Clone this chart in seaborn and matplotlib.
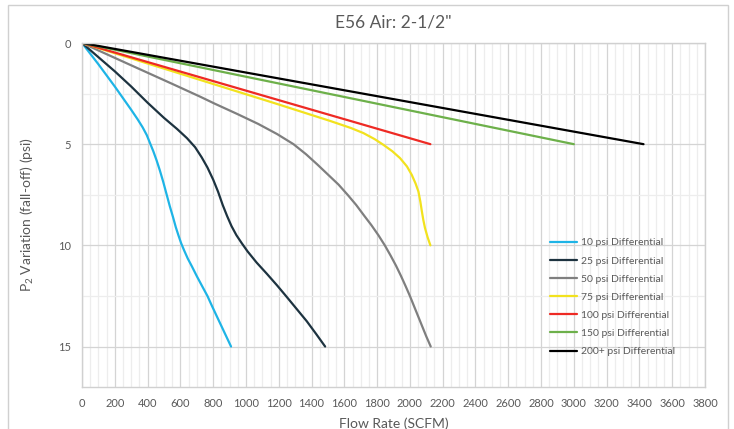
import pandas as pd
import matplotlib
matplotlib.use('Agg')
import matplotlib.pyplot as plt
from matplotlib.ticker import MultipleLocator
from matplotlib.patches import Rectangle
import seaborn as sns

# values (flow SCFM, P2 fall-off psi)
flow_10 = [0, 100, 200, 300, 340, 370, 395, 415, 435, 455, 475, 495, 515, 535, 555,
           572, 588, 605, 623, 645, 671, 702, 735, 765, 793, 822, 851, 880, 909]
drop_10 = [0, 1.05, 2.15, 3.3, 3.78, 4.17, 4.55, 4.95, 5.35, 5.8, 6.3, 6.85, 7.45, 8.05, 8.6,
           9.1, 9.5, 9.9, 10.25, 10.65, 11.05, 11.55, 12.05, 12.5, 13.0, 13.5, 14.0, 14.5, 15.0]

flow_25 = [0, 100, 200, 300, 400, 500, 580, 640, 690, 730, 765, 800, 830, 858, 885,
           912, 942, 975, 1010, 1065, 1127, 1190, 1249, 1310, 1371, 1430, 1483]
drop_25 = [0, 0.7, 1.4, 2.15, 2.95, 3.7, 4.25, 4.7, 5.15, 5.65, 6.15, 6.75, 7.35, 8.0, 8.55,
           9.05, 9.5, 9.9, 10.3, 10.85, 11.4, 11.98, 12.55, 13.15, 13.75, 14.4, 15.0]

flow_50 = [0, 272, 545, 720, 810, 945, 1075, 1190, 1290, 1367, 1435, 1500, 1565, 1620,
           1672, 1718, 1765, 1808, 1847, 1882, 1915, 1945, 1973, 2000, 2025, 2050, 2075,
           2100, 2127]
drop_50 = [0, 1.0, 2.0, 2.65, 3.0, 3.5, 4.0, 4.5, 5.0, 5.5, 6.0, 6.5, 7.0, 7.5,
           8.0, 8.5, 9.0, 9.5, 10.0, 10.5, 11.0, 11.5, 12.0, 12.5, 13.0, 13.5, 14.0,
           14.5, 15.0]

flow_75 = [0, 395, 790, 1185, 1513, 1640, 1716, 1785, 1838, 1893, 1940, 1982, 2011,
           2035, 2052, 2064, 2073, 2082, 2092, 2108, 2125]
drop_75 = [0, 1.0, 2.0, 3.0, 3.85, 4.2, 4.45, 4.75, 5.03, 5.35, 5.69, 6.1, 6.51,
           6.95, 7.34, 7.85, 8.32, 8.75, 9.14, 9.6, 10.0]

flow_100 = [0, 2125]
drop_100 = [0, 5.0]

flow_150 = [0, 3000]
drop_150 = [0, 5.0]

flow_200 = [0, 3425]
drop_200 = [0, 5.0]

labels = ['10 psi Differential', '25 psi Differential', '50 psi Differential',
          '75 psi Differential', '100 psi Differential', '150 psi Differential',
          '200+ psi Differential']
colors = ['#1EB4E6', '#1D3340', '#7F7F7F', '#F2E21E', '#EE2A24', '#6DB04A', '#000000']

flows = [flow_10, flow_25, flow_50, flow_75, flow_100, flow_150, flow_200]
drops = [drop_10, drop_25, drop_50, drop_75, drop_100, drop_150, drop_200]

rows = []
for lab, fx, dy in zip(labels, flows, drops):
    for a, b in zip(fx, dy):
        rows.append({'series': lab, 'flow': a, 'drop': b})
df = pd.DataFrame(rows)

sns.set_style('white')
plt.rcParams['font.family'] = ['Lato', 'DejaVu Sans']
plt.rcParams['mathtext.fontset'] = 'custom'
plt.rcParams['mathtext.rm'] = 'Lato'
plt.rcParams['mathtext.it'] = 'Lato'

txt = '#595959'
fig = plt.figure(figsize=(7.34, 4.29), dpi=100)
ax = fig.add_axes([82 / 734, 1 - 387 / 429, (705 - 82) / 734, (387 - 43) / 429])

sns.lineplot(data=df, x='flow', y='drop', hue='series', hue_order=labels,
             palette=colors, sort=False, estimator=None, units='series',
             linewidth=1.6, ax=ax, legend=True)
for ln in ax.lines:
    ln.set_solid_joinstyle('round')

ax.set_xlim(0, 3800)
ax.set_ylim(17, 0)
ax.xaxis.set_major_locator(MultipleLocator(200))
ax.xaxis.set_minor_locator(MultipleLocator(50))
ax.yaxis.set_major_locator(MultipleLocator(5))
ax.yaxis.set_minor_locator(MultipleLocator(2.5))
ax.grid(which='major', color='#D4D4D4', linewidth=0.9)
ax.grid(which='minor', color='#EDEDED', linewidth=0.9)
ax.set_axisbelow(True)
for s in ax.spines.values():
    s.set_color('#D0D0D0')
    s.set_linewidth(1.0)
ax.tick_params(which='both', length=0, labelsize=8, colors=txt, pad=8)

ax.set_xlabel('Flow Rate (SCFM)', fontsize=10, color=txt, labelpad=6)
ax.set_ylabel('P$_2$ Variation (fall-off) (psi)', fontsize=10, color=txt, labelpad=16)
fig.text(393 / 734, 1 - 22 / 429, 'E56 Air: 2-1/2"', ha='center', va='center',
         fontsize=12.5, color=txt)

ax.legend(loc='upper left', bbox_to_anchor=(0.745, 0.445), frameon=False,
          fontsize=7.5, labelcolor=txt, handlelength=2.6, handletextpad=0.3,
          labelspacing=0.85, borderaxespad=0)

fig.patches.append(Rectangle((8 / 734, -0.02), (728 - 8) / 734, 1.02 - 5 / 429,
                             transform=fig.transFigure, fill=False,
                             edgecolor='#D0D0D0', linewidth=1.0))

fig.savefig('out.png', dpi=100)
